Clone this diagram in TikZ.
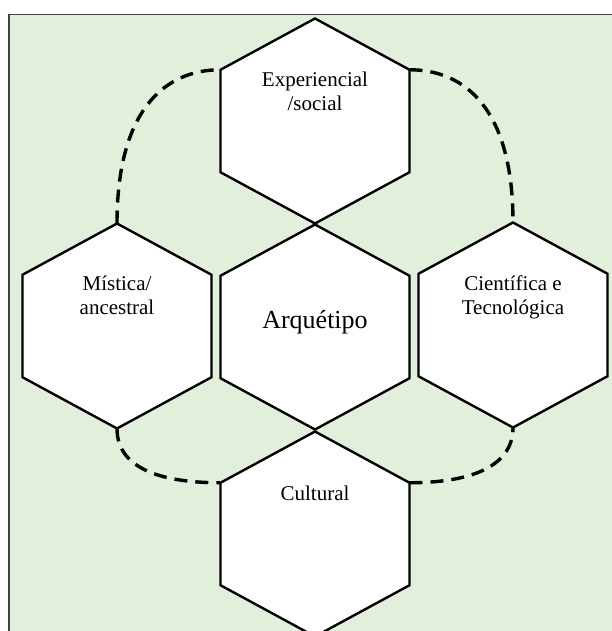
\documentclass[tikz,border=0pt]{standalone}
\usepackage{fontspec}
\setmainfont{Liberation Serif}
\usetikzlibrary{shapes.geometric}
\definecolor{panelgreen}{RGB}{226,239,218}
\tikzset{
  hexcell/.style={draw, line width=2.4pt, fill=white, regular polygon, regular polygon sides=6,
    shape border rotate=30, minimum size=218.2pt, inner sep=0pt, outer sep=0pt, yscale=0.9395},
  hexlabel/.style={align=center, inner sep=0pt, font=\fontsize{21}{24}\selectfont},
  linkarc/.style={line width=3.4pt, dash pattern=on 13pt off 8pt}
}
\begin{document}
\begin{tikzpicture}[x=1pt, y=-1pt]
\useasboundingbox (0,0) rectangle (612,631);
\draw[line width=1.8pt, draw=black!75, fill=panelgreen] (9,14.5) rectangle (630,650);
\node[hexcell] (social) at (315,121) {};
\node[hexcell] (mistica) at (117,326) {};
\node[hexcell] (ciencia) at (513,325) {};
\node[hexcell] (arquetipo) at (315,327) {};
\node[hexcell] (cultural) at (315,534) {};
\node[hexlabel, anchor=north] (socialtext) at (315,71.7) {Experiencial\\/social};
\node[hexlabel, anchor=north] (misticatext) at (117,275.3) {Mística/\\ancestral};
\node[hexlabel, anchor=north] (cienciatext) at (513,276) {Científica e\\Tecnológica};
\node[hexlabel, anchor=base, font=\fontsize{26}{30}\selectfont] (arquetipotext) at (315,328) {Arquétipo};
\node[hexlabel, anchor=base] (culturaltext) at (315,500) {Cultural};
\draw[linkarc] (mistica.north) .. controls +(0,-113) and +(-56,0) .. (social.150);
\draw[linkarc] (social.30) .. controls +(56,0) and +(0,-113) .. (ciencia.north);
\draw[linkarc] (mistica.south) .. controls +(0,42) and +(-55,0) .. (cultural.150);
\draw[linkarc] (cultural.30) .. controls +(55,0) and +(0,42) .. (ciencia.south);
\end{tikzpicture}
\end{document}
